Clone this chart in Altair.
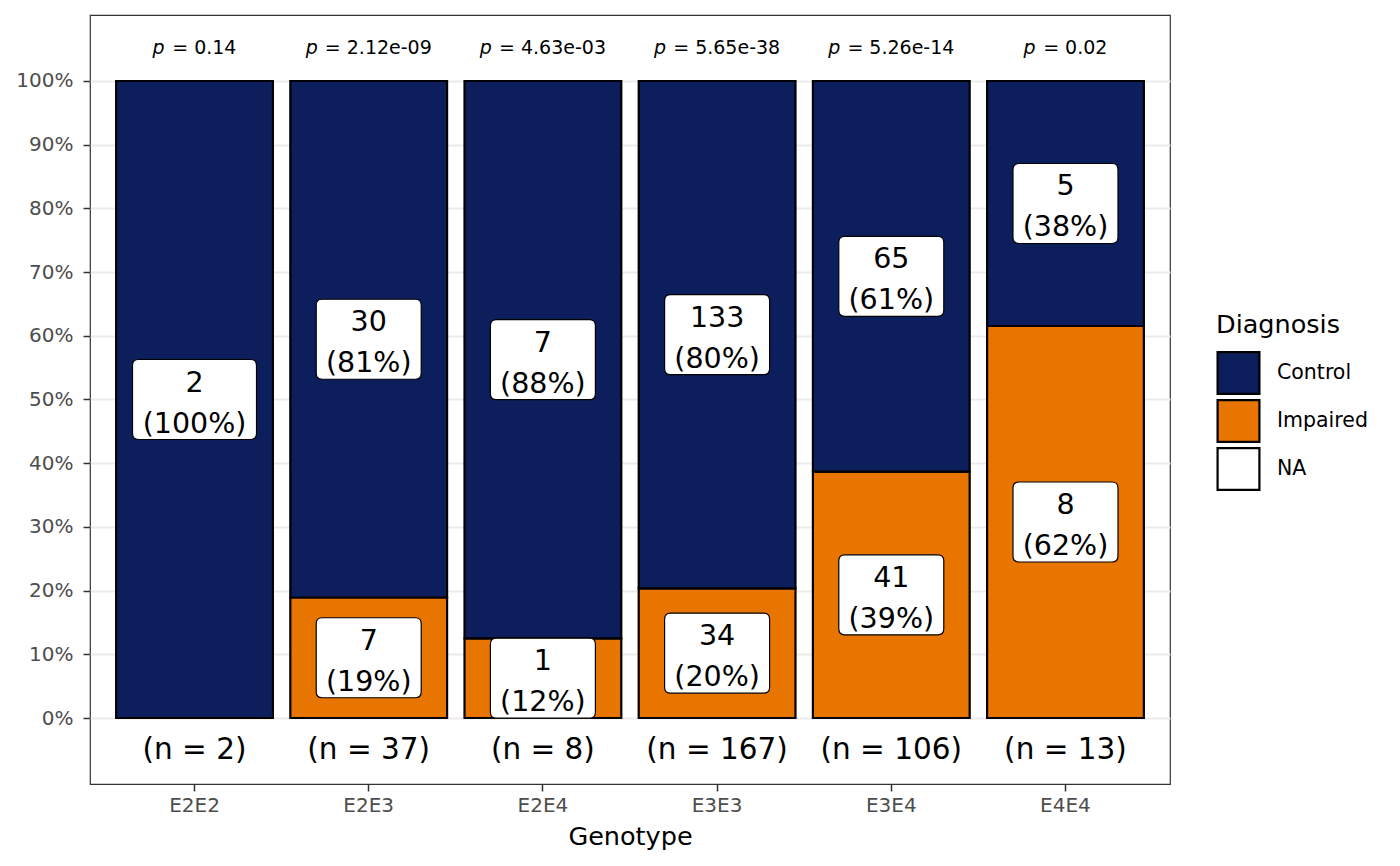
import altair as alt
import pandas as pd

# values
genotypes = ['E2E2', 'E2E3', 'E2E4', 'E3E3', 'E3E4', 'E4E4']
control = [2, 30, 7, 133, 65, 5]
impaired = [0, 7, 1, 34, 41, 8]
control_pct = [100, 81, 88, 80, 61, 38]
impaired_pct = [0, 19, 12, 20, 39, 62]
p_values = ['0.14', '2.12e-09', '4.63e-03', '5.65e-38', '5.26e-14', '0.02']

NAVY = '#0C1F5C'
ORANGE = '#E87500'
FONT = 'DejaVu Sans'
P_SIZE = 19
HALF_BAND = 78.4  # half of the bar width in px, offsets start at the band edge

rows = []
for g, c, i, cp, ip in zip(genotypes, control, impaired, control_pct, impaired_pct):
    n = c + i
    if i > 0:
        rows.append(dict(genotype=g, diagnosis='Impaired', lo=0, hi=i / n,
                         label=f'{i}\n({ip}%)', pct=ip))
    rows.append(dict(genotype=g, diagnosis='Control', lo=i / n, hi=1,
                     label=f'{c}\n({cp}%)', pct=cp))
df = pd.DataFrame(rows)
df['mid'] = (df['lo'] + df['hi']) / 2

totals = pd.DataFrame({
    'genotype': genotypes,
    'n_label': [f'(n = {c + i})' for c, i in zip(control, impaired)],
    'p_value': p_values,
})


def box_path(w, h, r):
    # rounded rectangle in the [-1, 1] symbol space, width mapped to sqrt(size)
    hh = h / w
    rr = r / (w / 2)
    return (f'M{-1 + rr},{-hh} L{1 - rr},{-hh} Q1,{-hh} 1,{-hh + rr} '
            f'L1,{hh - rr} Q1,{hh} {1 - rr},{hh} L{-1 + rr},{hh} '
            f'Q-1,{hh} -1,{hh - rr} L-1,{-hh + rr} Q-1,{-hh} {-1 + rr},{-hh} Z')


x_enc = alt.X('genotype:N', sort=genotypes,
              scale=alt.Scale(paddingInner=0.1, paddingOuter=0.15),
              axis=alt.Axis(title='Genotype', labelAngle=0, labelFontSize=20,
                            labelColor='#4D4D4D', tickColor='#333333', tickSize=7,
                            tickWidth=1.5, domain=False, grid=False,
                            titleFontSize=25.5, titleFontWeight='normal',
                            titleColor='black', labelPadding=4, titlePadding=9))

y_scale = alt.Scale(domain=[-0.1036, 1.1036], nice=False, zero=False)
minor = 'round(datum.value * 100) % 10 != 0'
y_axis = alt.Axis(
    title=None, values=[k / 20 for k in range(21)], domain=False,
    labelExpr=f"{minor} ? '' : format(datum.value, '.0%')",
    labelFontSize=20, labelColor='#4D4D4D', labelPadding=10,
    tickColor='#333333', tickSize=7, tickWidth=1.5,
    tickOpacity={'condition': {'test': minor, 'value': 0}, 'value': 1},
    gridColor='#EBEBEB',
    gridWidth={'condition': {'test': minor, 'value': 1}, 'value': 2},
)

bars = alt.Chart(df).mark_bar(stroke='black', strokeWidth=2.2).encode(
    x=x_enc,
    y=alt.Y('lo:Q', scale=y_scale, axis=y_axis),
    y2='hi:Q',
    color=alt.Color('diagnosis:N',
                    scale=alt.Scale(domain=['Control', 'Impaired', 'NA'],
                                    range=[NAVY, ORANGE, 'white']),
                    legend=alt.Legend(title='Diagnosis', orient='none',
                                      legendX=1126, legendY=298,
                                      symbolType='square', symbolSize=1750,
                                      symbolStrokeColor='black', symbolStrokeWidth=2.2,
                                      labelFontSize=20.5, titleFontSize=25.5,
                                      titleFontWeight='normal', titleColor='black',
                                      labelColor='black', titlePadding=12,
                                      rowPadding=-6, labelOffset=16)),
)

boxes_wide = alt.Chart(df).transform_filter('datum.pct == 100').mark_point(
    shape=box_path(124, 80, 6), size=124 * 124, filled=True, fill='white',
    opacity=1, stroke='black', strokeWidth=1.2,
).encode(x=alt.X('genotype:N', sort=genotypes), y=alt.Y('mid:Q'))

boxes = alt.Chart(df).transform_filter('datum.pct != 100').mark_point(
    shape=box_path(105, 80, 6), size=105 * 105, filled=True, fill='white',
    opacity=1, stroke='black', strokeWidth=1.2,
).encode(x=alt.X('genotype:N', sort=genotypes), y=alt.Y('mid:Q'))

labels = alt.Chart(df).mark_text(
    lineBreak='\n', fontSize=28.5, lineHeight=41, baseline='middle', dy=-17,
    color='black',
).encode(x=alt.X('genotype:N', sort=genotypes), y=alt.Y('mid:Q'), text='label:N')

# p = value, with an italic p; the half width of the string centres it on the bar
p_base = alt.Chart(totals).transform_calculate(
    half=f'({P_SIZE} * (0.634 + 1.55 + 0.557 * length(datum.p_value))) / 2',
    rest="'= ' + datum.p_value",
    left=f'{HALF_BAND} - datum.half',
    right=f'{HALF_BAND} + datum.half',
)
p_italic = p_base.mark_text(fontSize=P_SIZE, fontStyle='italic', align='left',
                            color='black').encode(
    x=alt.X('genotype:N', sort=genotypes), xOffset=alt.XOffset('left:Q', scale=None),
    y=alt.datum(1.052), text=alt.value('p'))
p_rest = p_base.mark_text(fontSize=P_SIZE, align='right', color='black').encode(
    x=alt.X('genotype:N', sort=genotypes), xOffset=alt.XOffset('right:Q', scale=None),
    y=alt.datum(1.052), text='rest:N')

n_text = alt.Chart(totals).mark_text(fontSize=29.5, color='black').encode(
    x=alt.X('genotype:N', sort=genotypes), y=alt.datum(-0.05), text='n_label:N')

chart = alt.layer(bars, boxes_wide, boxes, labels, p_italic, p_rest, n_text).properties(
    width=1080, height=769,
    autosize=alt.AutoSizeParams(type='none'),
    padding={'left': 82, 'top': 7, 'right': 216, 'bottom': 67},
).configure(font=FONT).configure_view(stroke='#333333', strokeWidth=1.2)

chart.save('out.html', embed_options={'renderer': 'svg', 'actions': False})
